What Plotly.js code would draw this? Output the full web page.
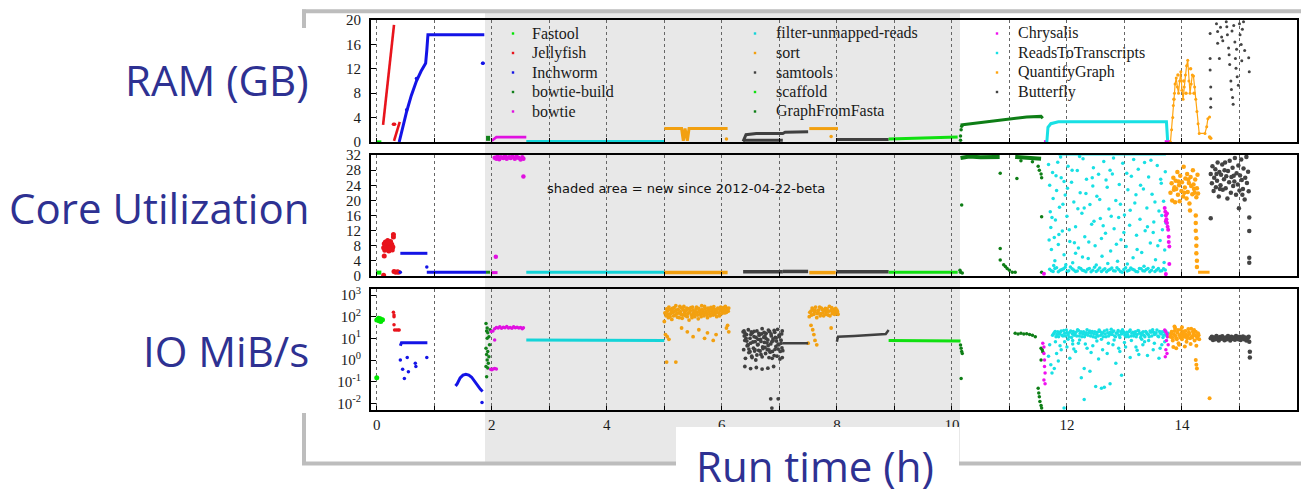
<!DOCTYPE html>
<html><head><meta charset="utf-8">
<script src="https://cdn.plot.ly/plotly-3.0.1.min.js"></script>
<style>html,body{margin:0;padding:0;background:#fff}#chart{width:1301px;height:489px}</style>
</head><body><div id="chart"></div>
<script>
// ---------------- categories / labels ----------------
const tools = ['Fastool','Jellyfish','Inchworm','bowtie-build','bowtie','filter-unmapped-reads','sort','samtools','scaffold','GraphFromFasta','Chrysalis','ReadsToTranscripts','QuantifyGraph','Butterfly'];
const panelTitles = ['RAM (GB)','Core Utilization','IO MiB/s'];
const xTitle = 'Run time (h)';
const note = 'shaded area = new since 2012-04-22-beta';
const xTickVals = [0,1,2,3,4,5,6,7,8,9,10,11,12,13,14,15,16];
const xTickText = ['0','','2','','4','','6','','8','','10','','12','','14','','16'];
const ramTicks = [0,4,8,12,16,20];
const coreTicks = [0,4,8,12,16,20,24,28,32];
const ioTickVals = [0.01,0.1,1,10,100,1000];
const ioTickText = ['10<sup>-2</sup>','10<sup>-1</sup>','10<sup>0</sup>','10<sup>1</sup>','10<sup>2</sup>','10<sup>3</sup>'];

// ---------------- RAM (GB) ----------------
const ramFastoolLine = [[0,0.05],[0.08,0.05]];
const ramJellyfishLine = [[0.11,2.8],[0.30,19.2],null,[0.30,0.2],[0.40,3.3]];
const ramJellyfishDots = [[0.29,2.9],[0.31,2.9]];
const ramInchwormLine = [[0.39,0],[0.45,2.4],[0.52,5.0],[0.60,7.6],[0.69,10.0],[0.77,11.6],[0.85,12.9],[0.87,15],[0.89,17.6],[1.2,17.6],[1.5,17.6],[1.87,17.6]];
const ramInchwormDots = [[0.52,5.3],[0.69,10.4],[1.84,12.9],[1.85,12.9]];
const ramBowtieBuildLine = [[1.9,0.6],[1.97,0.6]];
const ramBowtieLine = [[2.0,0.2],[2.08,0.8],[2.6,0.8]];
const ramFilterLine = [[2.6,0.1],[5.0,0.1]];
const ramSortLine = [[5.0,2.2],[5.3,2.2],[5.33,0.2],[5.36,2.2],[5.4,0.2],[5.43,2.2],[6.1,2.2],null,[7.52,2.2],[8.02,2.2]];
const ramSortDots = [[6.08,0.5],[7.9,0.9]];
const ramSamtoolsLine = [[6.37,0.1],[6.42,1.2],[6.6,1.4],[7.06,1.4],[7.1,1.6],[7.5,1.7],null,[6.37,0.3],[7.06,0.3],null,[8.0,0.4],[8.9,0.4]];
const ramScaffoldLine = [[8.9,0.5],[9.5,0.6],[10.1,0.8]];
const ramGraphLine = [[10.15,2.8],[10.5,3.2],[11.0,3.8],[11.3,4.1],[11.55,4.2],[11.58,3.9]];
const ramGraphDots = [[10.15,0.3],[10.15,1.0],[10.16,2.0],[10.17,2.6]];
const ramChrysalisLine = [[11.6,0.05],[11.65,0.05],null,[13.7,0.05],[13.8,0.05]];
const ramR2TLine = [[11.65,0],[11.67,2.4],[11.72,3.0],[11.85,3.3],[13.73,3.3],[13.75,0.3]];
const ramQuantifyLine = [[13.8,0],[13.82,2],[13.84,4],[13.85,6],[13.87,8],[13.88,9.5],[13.9,10.5],[13.92,9],[13.94,8],[13.96,10],[13.98,11.5],[14.0,8.5],[14.02,7],[14.04,9],[14.06,11],[14.08,12.5],[14.1,13.4],[14.12,10],[14.14,8],[14.16,9.5],[14.18,11],[14.2,10.8],[14.22,9],[14.24,7],[14.26,5],[14.28,3],[14.3,1.4],[14.4,1.4],[14.43,2.5],[14.45,3.8],[14.48,4.1]];
const ramQuantifyDots = [[13.86,7],[13.93,11],[14.03,10],[14.07,8],[14.15,12],[14.21,8],[14.48,0.8],[14.5,0.6]];
const ramButterflyDots = [[14.49,17.8],[14.49,13.7],[14.49,11.8],[14.5,9.0],[14.5,7.1],[14.5,5.7],[14.6,19.4],[14.62,18.1],[14.62,16.2],[14.65,13.7],[14.67,18.8],[14.69,17.2],[14.71,16.6],[14.77,19.7],[14.78,18.9],[14.79,17.6],[14.81,15.4],[14.82,14.3],[14.83,12.7],[14.85,10.0],[14.86,8.6],[14.88,7.3],[14.89,6.2],[14.9,19.1],[14.92,16.4],[14.93,13.7],[14.94,12.1],[14.96,10.7],[14.98,9.3],[15.0,19.4],[15.01,17.6],[15.03,16.0],[15.04,13.3],[15.07,19.7],[15.16,13.8],[15.17,11.5],[15.05,18.5],[14.87,18.2],[14.95,15.2],[15.09,15.0]];

// ---------------- Core utilization ----------------
const coreFastoolLine = [[0,0.9],[0.08,0.9]];
const coreJellyfishDots = [[0.12,7.5],[0.13,8.5],[0.14,6.8],[0.15,9.0],[0.16,7.9],[0.17,7.2],[0.18,8.6],[0.19,9.4],[0.2,7.6],[0.21,6.6],[0.22,8.2],[0.23,7.0],[0.24,9.1],[0.25,7.8],[0.26,8.4],[0.27,6.9],[0.28,7.7],[0.15,7.4],[0.18,7.0],[0.22,7.4],[0.2,8.8],[0.29,11.0],[0.29,10.3],[0.13,5.3],[0.12,0.2],[0.30,1.2],[0.33,1.0],[0.36,1.1],[0.38,1.0]];
const coreInchwormLine = [[0.41,6.0],[0.88,6.0],null,[0.87,1.0],[1.9,1.0]];
const coreInchwormDots = [[0.41,1.0],[0.87,2.4]];
const coreBowtieBuildLine = [[1.9,1.0],[1.97,1.0]];
const coreBowtieLine = [[2.0,0.9],[2.1,0.9]];
const coreBowtieDots = [[2.05,31.3],[2.08,31.0],[2.1,31.6],[2.13,30.9],[2.16,31.4],[2.2,31.2],[2.23,31.7],[2.26,31.0],[2.3,31.4],[2.33,31.2],[2.36,31.6],[2.4,31.0],[2.43,31.5],[2.46,31.3],[2.5,30.8],[2.53,31.4],[2.55,31.0],[2.07,5.1],[2.55,26.3]];
const coreFilterLine = [[2.6,1.0],[5.0,1.0]];
const coreSortLine = [[5.0,0.9],[6.1,0.9],null,[7.52,0.9],[7.98,0.9]];
const coreSamtoolsLine = [[6.37,1.1],[7.06,1.1],null,[7.06,1.2],[7.5,1.2],null,[8.0,1.1],[8.9,1.1]];
const coreScaffoldLine = [[8.9,1.0],[10.1,1.0]];
const coreGraphLine = [[10.15,31.2],[10.3,31.6],[10.5,31.4],[10.83,31.5],null,[11.1,31.5],[11.3,31.3],[11.55,31.0]];
const coreGraphDots = [[10.17,18.8],[10.84,27.2],[10.84,7.3],[10.84,4.2],[10.9,3.0],[10.93,2.5],[10.96,2.0],[11.0,1.5],[11.05,1.0],[11.1,1.0],[10.14,1.5],[10.15,1.0],[10.18,0.8],[11.13,25.8],[11.5,29],[11.52,28],[11.55,27],[11.56,26],[11.56,15.7],[11.56,1.0],[11.2,30.5],[11.4,30.2]];
const coreChrysalisDots = [[11.6,0.6],[13.7,18],[13.71,17],[13.72,16],[13.73,15],[13.74,14],[13.75,13],[13.76,12.2],[13.72,14.5],[13.74,16.5],[13.77,10.4],[13.77,9],[13.78,7.8],[13.78,3.2],[13.72,0.5]];
const coreR2TLine = [[11.85,32.1],[13.72,32.1]];
const coreR2TDots = [[11.70,1.8],[11.76,1.2],[11.82,2.2],[11.88,1.5],[11.94,1.9],[12.00,1.1],[12.06,2.4],[12.12,1.6],[12.18,1.3],[12.24,2.0],[12.30,1.4],[12.36,1.8],[12.42,1.1],[12.48,2.3],[12.54,1.6],[12.60,1.2],[12.66,1.9],[12.72,1.5],[12.78,2.1],[12.84,1.3],[12.90,1.7],[12.96,1.0],[13.02,2.2],[13.08,1.5],[13.14,1.8],[13.20,1.2],[13.26,2.0],[13.32,1.4],[13.38,1.7],[13.44,1.1],[13.50,2.3],[13.56,1.6],[13.62,1.3],[13.68,1.9],
 [11.73,1.4],[11.79,2.0],[11.85,1.1],[11.91,1.7],[11.97,2.3],[12.03,1.4],[12.09,1.9],[12.15,1.2],[12.21,2.2],[12.27,1.5],[12.33,1.1],[12.39,2.0],[12.45,1.5],[12.51,1.2],[12.57,2.1],[12.63,1.6],[12.69,1.1],[12.75,1.8],[12.81,1.4],[12.87,2.2],[12.93,1.2],[12.99,1.7],[13.05,1.3],[13.11,2.1],[13.17,1.6],[13.23,1.1],[13.29,1.9],[13.35,1.3],[13.41,2.0],[13.47,1.5],[13.53,1.2],[13.59,2.0],[13.65,1.4],[13.71,1.6],
 [11.68,29.5],[11.70,24.0],[11.71,17.0],[11.72,12.8],[11.73,7.0],[11.75,27.4],[11.76,20.5],[11.78,10.2],[11.79,4.0],[11.80,14.8],[11.82,22.6],[11.84,30.1],[11.85,8.3],[11.87,18.2],[11.90,26.0],[11.92,11.9],[11.95,5.6],[11.97,21.4],[12.00,15.8],[12.02,29.0],[12.05,9.1],[12.08,24.8],[12.10,3.5],[12.12,19.6],[12.15,13.0],[12.18,27.9],[12.20,7.4],[12.23,22.0],[12.26,16.6],[12.28,31.0],[12.31,10.4],[12.34,25.6],[12.37,4.6],[12.40,18.9],[12.43,13.7],[12.46,28.6],[12.49,8.0],[12.52,21.1],[12.55,26.9],[12.58,15.2],[12.61,5.2],[12.64,30.3],[12.67,11.3],[12.70,23.5],[12.73,17.7],[12.76,6.6],[12.79,27.0],[12.82,12.5],[12.85,20.0],[12.88,3.9],[12.91,24.2],[12.94,9.6],[12.97,29.8],[13.00,16.1],[13.03,7.8],[13.06,22.8],[13.09,13.4],[13.12,26.4],[13.15,4.8],[13.18,19.3],[13.21,10.8],[13.24,28.2],[13.27,15.0],[13.30,6.2],[13.33,23.0],[13.36,12.0],[13.39,18.0],[13.42,26.2],[13.45,8.7],[13.48,21.6],[13.51,14.3],[13.54,4.3],[13.57,29.2],[13.60,17.2],[13.62,9.4],[13.64,24.5],[13.66,12.2],[13.68,19.8],[13.70,6.9],[13.71,27.6],
 [11.95,25.0],[12.3,18.0],[12.6,9.9],[12.9,15.5],[13.2,21.5],[13.5,11.5],[12.15,6.0],[12.45,23.8],[12.75,28.0],[13.05,3.2],[13.35,30.0],[13.65,16.0],
 [11.69,9.5],[11.74,15.5],[11.77,2.8],[11.81,26.5],[11.86,11.0],[11.89,31.5],[11.93,19.0],[11.98,3.0],[12.01,23.2],[12.04,12.2],[12.09,28.0],[12.13,8.8],[12.19,17.8],[12.22,31.6],[12.27,5.0],[12.33,21.8],[12.38,9.0],[12.44,26.0],[12.47,14.5],[12.51,2.9],[12.57,20.2],[12.63,13.3],[12.68,25.4],[12.71,3.3],[12.77,15.8],[12.81,31.2],[12.86,8.4],[12.93,19.0],[12.99,11.5],[13.04,27.2],[13.1,17.4],[13.16,30.8],[13.22,7.0],[13.28,24.0],[13.34,2.6],[13.4,13.0],[13.46,30.6],[13.53,19.6],[13.58,8.0],[13.63,25.6],[13.69,3.6],[13.72,14.0]];
const coreQuantifyDots = [[13.80,22.0],[13.82,24.5],[13.83,20.0],[13.85,26.0],[13.86,22.8],[13.88,19.5],[13.89,25.2],[13.90,23.0],[13.92,27.5],[13.93,21.5],[13.95,24.0],[13.96,19.8],[13.97,26.5],[13.99,22.5],[14.00,24.8],[14.02,21.0],[14.03,28.9],[14.05,23.4],[14.06,25.8],[14.08,20.5],[14.09,27.0],[14.10,22.2],[14.12,24.6],[14.13,19.2],[14.15,26.2],[14.16,23.8],[14.18,21.6],[14.19,28.0],[14.20,24.2],[14.22,22.0],[14.23,25.5],[14.25,20.8],[14.26,23.2],[14.27,26.8],[14.28,21.8],[13.87,23.5],[13.94,25.0],[14.04,22.0],[14.11,25.5],[14.21,23.0],[14.14,17.3],[14.24,16],[14.24,14],[14.24,12],[14.25,10],[14.25,8],[14.25,6],[14.26,4],[14.26,2.4]];
const coreQuantifyLine = [[14.28,1.0],[14.48,1.0]];
const coreButterflyDots = [[14.50,27.0],[14.52,24.5],[14.53,29.0],[14.55,22.5],[14.56,26.0],[14.58,28.2],[14.59,23.5],[14.61,25.2],[14.62,30.0],[14.64,21.0],[14.65,27.5],[14.67,24.0],[14.68,26.8],[14.70,29.5],[14.71,22.8],[14.73,25.6],[14.74,28.0],[14.76,23.2],[14.77,26.4],[14.79,20.5],[14.80,27.8],[14.82,24.8],[14.83,30.5],[14.85,22.0],[14.86,26.2],[14.88,28.6],[14.89,23.8],[14.91,25.0],[14.92,31.2],[14.94,21.5],[14.95,27.2],[14.97,24.2],[14.98,29.2],[15.00,22.6],[15.01,26.6],[15.03,30.8],[15.04,25.4],[15.06,23.0],[15.07,28.4],[15.09,20.2],[15.10,26.0],[15.12,31.5],[15.13,24.6],[15.15,27.6],[15.16,22.4],[14.60,27.0],[14.75,30.0],[14.9,26.5],[15.05,21.5],[14.66,23.0],[14.5,15.3],[14.99,17.9],[15.17,15.5],[15.17,11.9],[15.17,4.8],[15.17,3.5]];

// ---------------- IO MiB/s ----------------
const ioFastoolDots = [[0,70],[0.02,75],[0.04,65],[0.06,80],[0.08,70],[0.1,72],[0.03,85],[0.07,60],[0.0,0.15]];
const ioJellyfishDots = [[0.29,160],[0.30,120],[0.30,100],[0.30,42],[0.31,24],[0.34,24],[0.37,24],[0.39,24]];
const ioInchwormLine = [[0.41,4.5],[0.43,6.3],[0.88,6.3],null,[1.37,0.063],[1.40,0.08],[1.45,0.15],[1.50,0.2],[1.55,0.22],[1.60,0.2],[1.65,0.16],[1.70,0.1],[1.75,0.065],[1.80,0.045],[1.84,0.035]];
const ioInchwormDots = [[0.41,1.0],[0.53,1.3],[0.45,0.37],[0.55,0.29],[0.48,0.14],[0.67,0.7],[0.68,0.5],[0.87,1.3],[1.83,0.011]];
const ioBowtieBuildDots = [[1.9,49],[1.92,30],[1.91,22],[1.93,18],[1.95,12],[1.92,10],[1.9,3.5],[1.93,2.5],[1.91,1.8],[1.95,1.4],[1.92,1.0],[1.94,0.7],[1.9,0.5],[1.93,0.43],[1.91,0.17],[1.96,5],[1.97,25]];
const ioBowtieDots = [[1.98,0.37],[2.0,0.35],[2.02,0.38],[2.05,0.4],[2.08,0.38],[2.05,8.3],[1.99,21],[2.02,22],[2.05,28],[2.08,32],[2.11,30],[2.14,34],[2.17,29],[2.2,33],[2.23,31],[2.26,35],[2.29,30],[2.32,32],[2.35,29],[2.38,34],[2.41,31],[2.44,33],[2.47,30],[2.5,32],[2.53,28],[2.55,31]];
const ioFilterLine = [[2.6,8.3],[3.5,8.3],[4.0,8.0],[4.05,7.8],[5.0,8.0]];
const ioSortDots = [[5.00,60],[5.03,110],[5.05,180],[5.07,90],[5.09,220],[5.11,140],[5.13,75],[5.15,160],[5.17,260],[5.19,120],[5.21,200],[5.23,95],[5.25,150],[5.27,300],[5.29,130],[5.31,85],[5.33,210],[5.35,170],[5.37,110],[5.39,250],[5.41,140],[5.43,70],[5.45,190],[5.47,120],[5.49,280],[5.51,150],[5.53,100],[5.55,230],[5.57,160],[5.59,80],[5.61,200],[5.63,130],[5.65,320],[5.67,170],[5.69,110],[5.71,240],[5.73,150],[5.75,90],[5.77,210],[5.79,130],[5.81,270],[5.83,180],[5.85,120],[5.87,220],[5.89,160],[5.91,100],[5.93,250],[5.95,140],[5.97,190],[5.99,230],[6.01,170],[6.03,260],[6.05,150],[6.07,200],[6.09,240],[6.11,180],
 [5.01,150],[5.04,230],[5.06,130],[5.08,280],[5.10,100],[5.12,190],[5.14,240],[5.16,110],[5.18,180],[5.20,320],[5.22,140],[5.24,220],[5.26,90],[5.28,170],[5.30,250],[5.32,120],[5.34,300],[5.36,140],[5.38,190],[5.40,100],[5.42,230],[5.44,160],[5.46,260],[5.48,90],[5.50,200],[5.52,130],[5.54,170],[5.56,280],[5.58,120],[5.60,240],[5.62,160],[5.64,100],[5.66,210],[5.68,140],[5.70,300],[5.72,180],[5.74,120],[5.76,250],[5.78,170],[5.80,110],[5.82,220],[5.84,150],[5.86,290],[5.88,130],[5.90,200],[5.92,160],[5.94,230],[5.96,110],[5.98,280],[6.00,140],[6.02,210],[6.04,180],[6.06,300],[6.08,160],[6.10,220],[6.12,250],
 [5.02,15],[5.05,12],[5.08,9],[5.04,0.8],[5.2,0.8],[5.3,30],[5.4,20],[5.5,12],[5.6,25],[5.7,10],[5.75,18],[5.85,8],[5.9,15],[6.1,40],[6.12,20],[6.08,30],
 [7.52,100],[7.55,180],[7.57,250],[7.6,130],[7.62,200],[7.65,90],[7.67,160],[7.7,280],[7.72,140],[7.75,210],[7.77,110],[7.8,240],[7.82,170],[7.85,120],[7.87,300],[7.9,190],[7.92,140],[7.95,220],[7.97,160],[8.0,200],[8.02,130],
 [7.53,160],[7.56,120],[7.58,220],[7.61,170],[7.63,280],[7.66,140],[7.68,200],[7.71,110],[7.73,250],[7.76,150],[7.78,190],[7.81,130],[7.83,230],[7.86,180],[7.88,110],[7.91,260],[7.93,170],[7.96,130],[7.98,240],[8.01,170],
 [7.55,40],[7.58,25],[7.6,15],[7.62,8],[7.65,5],[7.9,30],[7.5,6]];
const ioSamtoolsDots = [[6.37,20],[6.38,3],[6.40,8],[6.41,1.2],[6.43,15],[6.44,4.5],[6.46,25],[6.47,2.2],[6.49,10],[6.50,6],[6.52,1.5],[6.53,18],[6.55,3.5],[6.56,12],[6.58,7],[6.59,1.0],[6.61,22],[6.62,5],[6.64,2.8],[6.65,14],[6.67,9],[6.68,1.8],[6.70,28],[6.71,4],[6.73,11],[6.74,6.5],[6.76,2.0],[6.77,17],[6.79,3],[6.80,8.5],[6.82,1.3],[6.83,21],[6.85,5.5],[6.86,13],[6.88,2.5],[6.89,9.5],[6.91,1.6],[6.92,19],[6.94,4.2],[6.95,7.5],[6.97,26],[6.98,3.2],[7.00,12],[7.01,1.1],[7.03,6],[7.04,16],[7.06,2.7],
 [6.39,13],[6.45,5],[6.51,20],[6.57,2.6],[6.63,9],[6.69,16],[6.75,3.8],[6.81,24],[6.87,7],[6.93,11],[6.99,5],[7.05,22],
 [6.385,22],[6.42,10],[6.455,4.8],[6.49,2.4],[6.525,1.3],[6.56,21],[6.595,11],[6.63,5.2],[6.665,2.6],[6.70,1.4],[6.735,19],[6.77,9.8],[6.805,4.6],[6.84,2.3],[6.875,1.2],[6.91,23],[6.945,10.5],[6.98,5.4],[7.015,2.5],[7.05,1.3],
 [6.40,18],[6.435,7.5],[6.47,3.2],[6.505,15],[6.54,6.8],[6.575,3.0],[6.61,1.7],[6.645,17],[6.68,7.2],[6.715,3.4],[6.75,13],[6.785,6.2],[6.82,2.9],[6.855,16],[6.89,7.8],[6.925,3.1],[6.96,1.5],[6.995,14],[7.03,8.2],[7.045,3.6],
 [6.4,0.5],[6.5,0.4],[6.6,0.45],[6.7,0.38],[6.8,0.42],[6.9,0.5],[6.85,0.016],[6.98,0.016],[6.87,0.006]];
const ioSamtoolsLine = [[7.06,5.9],[7.5,6.0],null,[8.0,7],[8.02,12],[8.3,13],[8.6,14],[8.85,16],[8.9,24]];
const ioScaffoldLine = [[8.9,8.0],[9.5,7.8],[10.1,7.5],[10.15,7.5]];
const ioGraphDots = [[10.15,4.9],[10.16,3.5],[10.17,2.5],[10.18,2.0],[10.16,0.14],[11.1,17],[11.15,16],[11.2,17],[11.25,16],[11.3,16.5],[11.35,15],[11.4,14],[11.45,12],[11.55,3.5],[11.57,3.0],[11.58,2.4],[11.55,1.0],[11.5,0.05],[11.51,0.03],[11.52,0.02],[11.53,0.012],[11.55,0.008],[11.56,0.006]];
const ioChrysalisDots = [[11.58,6],[11.6,4],[11.6,2],[11.61,1],[11.61,0.5],[11.62,0.25],[11.6,0.12],[11.62,0.08],[13.7,24],[13.72,20],[13.74,16],[13.75,12],[13.73,8],[13.76,5],[13.72,3],[13.74,2],[13.71,1.4]];
const ioR2TDots = [[11.75,14],[11.78,18],[11.81,12],[11.84,20],[11.87,16],[11.90,22],[11.93,13],[11.96,17],[11.99,24],[12.02,15],[12.05,19],[12.08,11],[12.11,21],[12.14,16],[12.17,13],[12.20,23],[12.23,17],[12.26,12],[12.29,20],[12.32,15],[12.35,25],[12.38,18],[12.41,13],[12.44,21],[12.47,16],[12.50,11],[12.53,19],[12.56,24],[12.59,14],[12.62,17],[12.65,22],[12.68,12],[12.71,18],[12.74,15],[12.77,26],[12.80,20],[12.83,13],[12.86,17],[12.89,23],[12.92,11],[12.95,16],[12.98,21],[13.01,14],[13.04,19],[13.07,12],[13.10,24],[13.13,17],[13.16,13],[13.19,20],[13.22,15],[13.25,22],[13.28,11],[13.31,18],[13.34,14],[13.37,21],[13.40,16],[13.43,12],[13.46,19],[13.49,25],[13.52,15],[13.55,18],[13.58,13],[13.61,21],[13.64,16],[13.67,11],[13.70,19],[13.73,14],[13.76,17],
 [11.765,16],[11.795,21],[11.825,15],[11.855,12],[11.885,19],[11.915,14],[11.945,23],[11.975,13],[12.005,18],[12.035,12],[12.065,22],[12.095,16],[12.125,14],[12.155,19],[12.185,25],[12.215,13],[12.245,20],[12.275,16],[12.305,12],[12.335,18],[12.365,14],[12.395,22],[12.425,17],[12.455,12],[12.485,20],[12.515,15],[12.545,13],[12.575,21],[12.605,18],[12.635,12],[12.665,16],[12.695,24],[12.725,13],[12.755,19],[12.785,15],[12.815,22],[12.845,12],[12.875,18],[12.905,14],[12.935,20],[12.965,25],[12.995,17],[13.025,12],[13.055,15],[13.085,21],[13.115,13],[13.145,19],[13.175,16],[13.205,12],[13.235,23],[13.265,17],[13.295,14],[13.325,20],[13.355,12],[13.385,18],[13.415,15],[13.445,22],[13.475,13],[13.505,19],[13.535,16],[13.565,24],[13.595,12],[13.625,17],[13.655,20],[13.685,14],[13.715,22],[13.745,12],
 [11.8,7],[11.88,4.5],[12.02,9],[12.12,3.2],[12.22,8.5],[12.32,5.5],[12.42,2.2],[12.52,7.5],[12.62,3],[12.72,6],[12.82,8.5],[12.92,2.5],[13.02,4],[13.12,8],[13.22,2.8],[13.32,5],[13.42,8],[13.52,6],[13.62,3.5],[13.7,7],
 [11.68,1.5],[11.7,5],[11.72,0.6],[11.74,0.25],[11.78,0.4],[11.82,2],[11.85,0.9],[11.9,3],[11.95,0.006],[11.96,7],[12.0,4],[12.05,1.2],[12.1,5.5],[12.15,2.5],[12.2,6],[12.25,0.15],[12.3,0.4],[12.35,3.5],[12.4,0.3],[12.45,4.5],[12.5,0.06],[12.55,1.1],[12.6,0.05],[12.65,0.055],[12.7,2],[12.75,0.08],[12.8,5],[12.85,0.7],[12.9,3.5],[12.95,0.2],[13.0,6.5],[13.1,1.3],[13.2,4],[13.25,1.8],[13.35,7],[13.4,1.6],[13.5,3],[13.6,1.2],[13.65,5],[12.3,0.015],[12.1,8],[12.6,9],[13.3,9]];
const ioQuantifyDots = [[13.80,12],[13.82,20],[13.84,8],[13.86,15],[13.88,30],[13.90,10],[13.92,18],[13.94,6],[13.96,14],[13.98,25],[14.00,9],[14.02,16],[14.04,12],[14.06,22],[14.08,7],[14.10,13],[14.12,19],[14.14,10],[14.16,28],[14.18,11],[14.20,15],[14.22,8],[14.24,20],[14.26,12],[14.28,17],[14.3,9],[13.85,4],[13.9,3.5],[13.95,5],[14.05,4.2],[14.15,5.5],[14.25,4.5],[13.87,35],[14.0,33],[14.11,27],[14.21,24],
 [13.81,16],[13.83,11],[13.87,22],[13.89,13],[13.91,9],[13.93,24],[13.97,11],[13.99,17],[14.01,13],[14.03,21],[14.07,15],[14.09,10],[14.13,16],[14.17,12],[14.19,20],[14.23,14],[14.27,10],[14.29,14],
 [14.24,1.0],[14.25,0.6],[14.26,0.4],[14.48,0.017]];
const ioButterflyDots = [[14.50,10],[14.52,12],[14.54,8.5],[14.56,11],[14.58,9],[14.60,13],[14.62,10],[14.64,8],[14.66,11.5],[14.68,9.5],[14.70,12.5],[14.72,10],[14.74,8.2],[14.76,11],[14.78,9],[14.80,13],[14.82,10.5],[14.84,8],[14.86,12],[14.88,9.5],[14.90,11],[14.92,8.6],[14.94,12.8],[14.96,10],[14.98,9],[15.00,11.8],[15.02,8.4],[15.04,10.5],[15.06,12.2],[15.08,9.2],[15.10,11],[15.12,8],[15.14,10],[15.16,12],[15.17,7],[15.18,2.4],[15.18,1.3]];

// ---------------- styles ----------------
const toolColors = {
  'Fastool':'#00e600','Jellyfish':'#e8141c','Inchworm':'#1414e6','bowtie-build':'#12801a','bowtie':'#e010e0',
  'filter-unmapped-reads':'#14d4d8','sort':'#f2a010','samtools':'#404040','scaffold':'#10e010','GraphFromFasta':'#0e7e16',
  'Chrysalis':'#f010f0','ReadsToTranscripts':'#18e0e4','QuantifyGraph':'#ffa410','Butterfly':'#444444'
};
const W = 1301, H = 489;
const px = v => v / W, py = v => 1 - v / H;
const serif = 'Times New Roman, Liberation Serif, Nimbus Roman, Tinos, DejaVu Serif, serif';

const traces = [];
function add(panel, tool, kind, pts, sz) {
  const ax = ['', '2', '3'][panel];
  const x = pts.map(p => p ? p[0] : null), y = pts.map(p => p ? p[1] : null);
  const t = {type:'scatter', x, y, xaxis:'x'+ax, yaxis:'y'+ax, showlegend:false, hoverinfo:'skip', name:tool};
  if (kind === 'line') { t.mode = 'lines'; t.line = {color: toolColors[tool], width: sz || 2.6}; }
  else if (kind === 'lm') { t.mode = 'lines+markers'; t.line = {color: toolColors[tool], width: 1.2}; t.marker = {color: toolColors[tool], size: sz || 3}; }
  else { t.mode = 'markers'; t.marker = {color: toolColors[tool], size: sz || 3.5, line:{width:0}}; }
  traces.push(t);
}
// RAM
add(0,'Fastool','line',ramFastoolLine);
add(0,'Jellyfish','line',ramJellyfishLine);
add(0,'Jellyfish','dots',ramJellyfishDots);
add(0,'Inchworm','line',ramInchwormLine,3);
add(0,'Inchworm','dots',ramInchwormDots);
add(0,'bowtie-build','line',ramBowtieBuildLine,5);
add(0,'bowtie','line',ramBowtieLine);
add(0,'filter-unmapped-reads','line',ramFilterLine);
add(0,'sort','line',ramSortLine,3);
add(0,'sort','dots',ramSortDots);
add(0,'samtools','line',ramSamtoolsLine,3);
add(0,'scaffold','line',ramScaffoldLine,3);
add(0,'GraphFromFasta','line',ramGraphLine,3);
add(0,'GraphFromFasta','dots',ramGraphDots);
add(0,'Chrysalis','line',ramChrysalisLine,3);
add(0,'ReadsToTranscripts','line',ramR2TLine,3);
add(0,'QuantifyGraph','lm',ramQuantifyLine,3);
add(0,'QuantifyGraph','dots',ramQuantifyDots);
add(0,'Butterfly','dots',ramButterflyDots,3);
// Core
add(1,'Fastool','line',coreFastoolLine,4);
add(1,'Jellyfish','dots',coreJellyfishDots,5);
add(1,'Inchworm','line',coreInchwormLine,3);
add(1,'Inchworm','dots',coreInchwormDots);
add(1,'bowtie-build','line',coreBowtieBuildLine,3);
add(1,'bowtie','line',coreBowtieLine,3);
add(1,'bowtie','dots',coreBowtieDots,4.5);
add(1,'filter-unmapped-reads','line',coreFilterLine,3);
add(1,'sort','line',coreSortLine,3.5);
add(1,'samtools','line',coreSamtoolsLine,3.5);
add(1,'scaffold','line',coreScaffoldLine,3);
add(1,'GraphFromFasta','line',coreGraphLine,4);
add(1,'GraphFromFasta','dots',coreGraphDots);
add(1,'ReadsToTranscripts','line',coreR2TLine,2);
add(1,'ReadsToTranscripts','dots',coreR2TDots,3.5);
add(1,'Chrysalis','dots',coreChrysalisDots,4);
add(1,'QuantifyGraph','dots',coreQuantifyDots,4.5);
add(1,'QuantifyGraph','line',coreQuantifyLine,3);
add(1,'Butterfly','dots',coreButterflyDots,4.5);
// IO
add(2,'Fastool','dots',ioFastoolDots,5);
add(2,'Jellyfish','dots',ioJellyfishDots);
add(2,'Inchworm','line',ioInchwormLine,3);
add(2,'Inchworm','dots',ioInchwormDots);
add(2,'bowtie-build','dots',ioBowtieBuildDots);
add(2,'bowtie','dots',ioBowtieDots);
add(2,'filter-unmapped-reads','line',ioFilterLine,3);
add(2,'sort','dots',ioSortDots,3.8);
add(2,'samtools','dots',ioSamtoolsDots,3.8);
add(2,'samtools','line',ioSamtoolsLine,2.5);
add(2,'scaffold','line',ioScaffoldLine,3);
add(2,'GraphFromFasta','dots',ioGraphDots);
add(2,'ReadsToTranscripts','dots',ioR2TDots,3.5);
add(2,'Chrysalis','dots',ioChrysalisDots);
add(2,'QuantifyGraph','dots',ioQuantifyDots,4);
add(2,'Butterfly','dots',ioButterflyDots,4.5);

const tickFont = {family:serif, size:15, color:'#1a1a1a'};
function xax(anchor, labels) {
  return {domain:[px(371), px(1297)], range:[-0.1,16], anchor, tickvals:xTickVals, ticktext:xTickText,
    showticklabels:labels, tickfont:tickFont, ticks:'inside', ticklen:4, tickcolor:'#000', ticklabelstandoff:0,
    showgrid:true, gridcolor:'#666', griddash:'dot', gridwidth:1, zeroline:false,
    showline:true, mirror:true, linecolor:'#000', linewidth:2, fixedrange:true};
}
function yax(anchor, dom, extra) {
  return Object.assign({domain:dom, anchor, tickfont:tickFont, ticks:'inside', ticklen:5, tickcolor:'#000',
    showgrid:false, zeroline:false, showline:true, mirror:true, linecolor:'#000', linewidth:2, ticklabelstandoff:5, fixedrange:true}, extra);
}

const shapes = [
  {type:'rect', xref:'paper', yref:'paper', x0:px(485), x1:px(960), y0:py(462), y1:py(13), fillcolor:'#e8e8e8', line:{width:0}, layer:'below'},
  {type:'line', xref:'paper', yref:'paper', x0:px(302), x1:px(1301), y0:py(11.3), y1:py(11.3), line:{color:'#bdbdbd', width:4}, layer:'below'},
  {type:'line', xref:'paper', yref:'paper', x0:px(304), x1:px(304), y0:py(9.5), y1:py(28), line:{color:'#bdbdbd', width:4}, layer:'below'},
  {type:'line', xref:'paper', yref:'paper', x0:px(304), x1:px(304), y0:py(413), y1:py(465), line:{color:'#bdbdbd', width:4}, layer:'below'},
  {type:'line', xref:'paper', yref:'paper', x0:px(302), x1:px(1301), y0:py(463.5), y1:py(463.5), line:{color:'#bdbdbd', width:4}, layer:'below'},
  {type:'rect', xref:'paper', yref:'paper', x0:px(676), x1:px(959), y0:0, y1:py(427), fillcolor:'#ffffff', line:{width:0}, layer:'above'}
];

const legendCols = [[513,530],[755,774],[997,1016]];
const legendRows = [33.5,53,72.5,92,111.5];
const legendLayout = [[0,0],[0,1],[0,2],[0,3],[0,4],[1,0],[1,1],[1,2],[1,3],[1,4],[2,0],[2,1],[2,2],[2,3]];
const annotations = [];
tools.forEach((t, i) => {
  const [c, r] = legendLayout[i];
  const yy = legendRows[r];
  shapes.push({type:'rect', xref:'paper', yref:'paper', x0:px(legendCols[c][0]-1.2), x1:px(legendCols[c][0]+1.2), y0:py(yy+1.2), y1:py(yy-1.2), fillcolor:toolColors[t], line:{width:0}, layer:'above'});
  annotations.push({xref:'paper', yref:'paper', x:px(legendCols[c][1]), y:py(yy), xanchor:'left', yanchor:'middle', showarrow:false, text:t,
    font:{family:serif, size:16, color:'#1a1a1a'}});
});
annotations.push({xref:'paper', yref:'paper', x:px(686), y:py(188.5), xanchor:'center', yanchor:'middle', showarrow:false, text:note,
  font:{family:'DejaVu Sans', size:13, color:'#111'}});
const bigFont = {family:'Open Sans', size:42, color:'#2e3192'};
const titleY = [81, 209, 352];
panelTitles.forEach((t, i) => {
  annotations.push({xref:'paper', yref:'paper', x:px(311), y:py(titleY[i] - 2), xanchor:'right', yanchor:'middle', showarrow:false, text:t, font:bigFont});
});
annotations.push({xref:'paper', yref:'paper', x:px(815), y:py(465), xanchor:'center', yanchor:'middle', showarrow:false, text:xTitle, font:bigFont});

const layout = {
  width:W, height:H, margin:{l:0, r:0, t:0, b:0}, paper_bgcolor:'#ffffff', plot_bgcolor:'rgba(0,0,0,0)', showlegend:false,
  xaxis: xax('y', false), xaxis2: xax('y2', false), xaxis3: xax('y3', true),
  yaxis: yax('x', [py(142), py(20)], {range:[0,20], tickvals:ramTicks}),
  yaxis2: yax('x2', [py(276), py(155)], {range:[0,32], tickvals:coreTicks}),
  yaxis3: yax('x3', [py(410), py(289)], {type:'log', range:[-2.31,3.28], tickvals:ioTickVals, ticktext:ioTickText}),
  shapes, annotations
};
Plotly.newPlot('chart', traces, layout, {staticPlot:true, displayModeBar:false});
</script>
</body></html>
